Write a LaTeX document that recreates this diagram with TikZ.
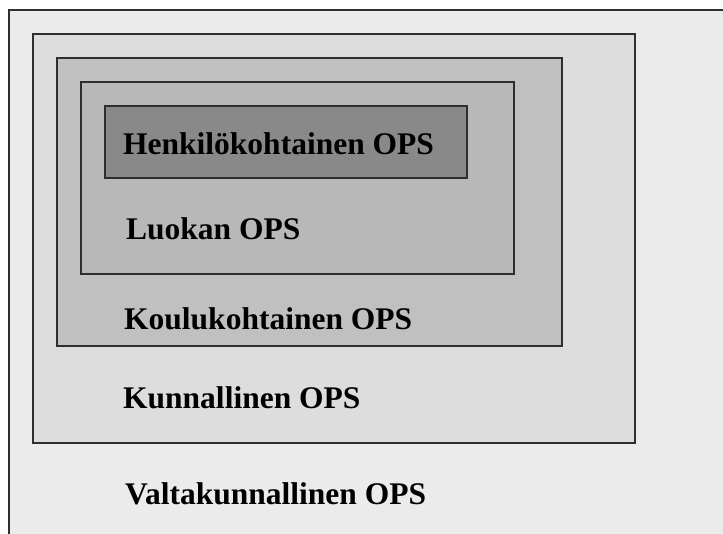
\documentclass[tikz,border=0pt]{standalone}
\usepackage{fontspec}
\setmainfont{Liberation Serif}
\definecolor{cOuter}{HTML}{EBEBEB}
\definecolor{cKunta}{HTML}{DDDDDD}
\definecolor{cKoulu}{HTML}{C0C0C0}
\definecolor{cLuokka}{HTML}{B8B8B8}
\definecolor{cHenk}{HTML}{898989}
\definecolor{cLine}{HTML}{2E2E2E}
\begin{document}
\begin{tikzpicture}[x=1pt,y=-1pt,
  levelbox/.style={draw=cLine, line width=2pt, inner sep=0pt, outer sep=0pt},
  leveltext/.style={anchor=base west, inner sep=0pt, font=\fontsize{31.5}{36}\selectfont\bfseries, text=black}]
\useasboundingbox (0,0) rectangle (723,533);
\fill[white] (0,0) rectangle (723,533);
\clip (0,0) rectangle (723,533);
\draw[levelbox, fill=cOuter] (9,10) rectangle (740,550);
\node[leveltext] (valta) at (125,504) {Valtakunnallinen OPS};
\draw[levelbox, fill=cKunta] (33,34) rectangle (635,443);
\node[leveltext] (kunta) at (123,408) {Kunnallinen OPS};
\draw[levelbox, fill=cKoulu] (57,58) rectangle (562,346);
\node[leveltext] (koulu) at (124,329) {Koulukohtainen OPS};
\draw[levelbox, fill=cLuokka] (81,82) rectangle (514,274);
\node[leveltext] (luokka) at (126,239) {Luokan OPS};
\draw[levelbox, fill=cHenk] (105,106) rectangle (467,178);
\node[leveltext] (henk) at (123,154) {Henkilökohtainen OPS};
\end{tikzpicture}
\end{document}
